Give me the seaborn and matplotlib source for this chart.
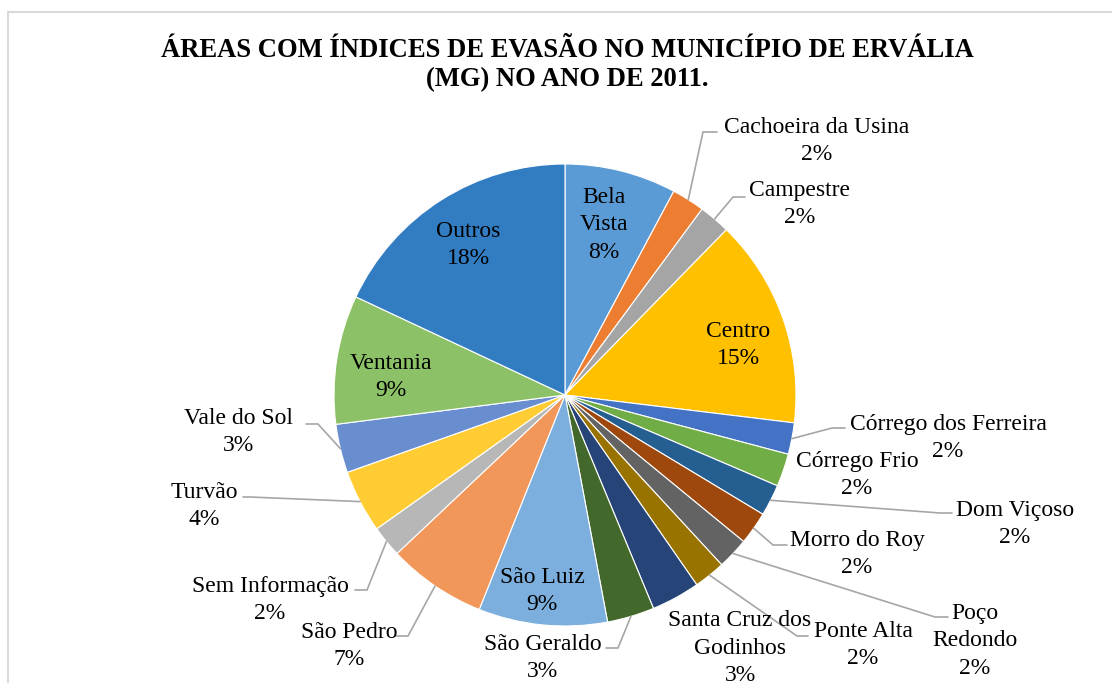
import numpy as np
import matplotlib.pyplot as plt
import matplotlib.patches as patches
import seaborn as sns

# Data (share of cases, %)
areas = ["Bela Vista", "Cachoeira da Usina", "Campestre", "Centro",
         "Córrego dos Ferreira", "Córrego Frio", "Dom Viçoso", "Morro do Roy",
         "Poço Redondo", "Ponte Alta", "Santa Cruz dos Godinhos", "São Geraldo",
         "São Luiz", "São Pedro", "Sem Informação", "Turvão", "Vale do Sol",
         "Ventania", "Outros"]
shares = [7.8, 2.3, 2.2, 14.6, 2.2, 2.3, 2.2, 2.3, 2.2, 2.2, 3.4, 3.3,
          9.0, 6.9, 2.2, 4.4, 3.4, 9.0, 18.0]
# how the names are broken in the labels
display_names = ["Bela\nVista", "Cachoeira da Usina", "Campestre", "Centro",
                 "Córrego dos Ferreira", "Córrego Frio", "Dom Viçoso", "Morro do Roy",
                 "Poço\nRedondo", "Ponte Alta", "Santa Cruz dos\nGodinhos", "São Geraldo",
                 "São Luiz", "São Pedro", "Sem Informação", "Turvão", "Vale do Sol",
                 "Ventania", "Outros"]

colors = ["#5B9BD5", "#ED7D31", "#A5A5A5", "#FFC000", "#4472C4", "#70AD47",
          "#255E91", "#9E480E", "#636363", "#997300", "#264478", "#43682B",
          "#7CAFDD", "#F1975A", "#B7B7B7", "#FFCD33", "#698ED0", "#8CC168",
          "#327DC2"]

sns.set_theme(style="white")
plt.rcParams["font.family"] = ["Liberation Serif", "DejaVu Serif"]

W, H = 1112, 683
fig = plt.figure(figsize=(W / 100, H / 100), dpi=100)
ax = fig.add_axes([0, 0, 1, 1])

cx, cy, r = 565, H - 395, 231
wedges, _ = ax.pie(shares, colors=colors, startangle=90, counterclock=False,
                   center=(cx, cy), radius=r,
                   wedgeprops=dict(edgecolor="white", linewidth=0.8))
ax.set_xlim(0, W)
ax.set_ylim(0, H)
ax.set_aspect("equal")
ax.axis("off")

# label layout: text centre and optional leader knee / end (pixels from top-left)
layout = {
    "Bela Vista": ((604, 225), None),
    "Cachoeira da Usina": ((817, 141), ((703, 132), (717, 132))),
    "Campestre": ((800, 204), ((733, 197), (745, 197))),
    "Centro": ((738, 345), None),
    "Córrego dos Ferreira": ((948, 438), ((832, 428), (845, 428))),
    "Córrego Frio": ((857, 475), None),
    "Dom Viçoso": ((1015, 524), ((940, 513), (952, 513))),
    "Morro do Roy": ((857, 554), ((773, 545), (787, 545))),
    "Poço Redondo": ((975, 641), ((935, 617), (948, 617))),
    "Ponte Alta": ((863, 645), ((797, 636), (808, 636))),
    "Santa Cruz dos Godinhos": ((740, 648), None),
    "São Geraldo": ((543, 658), ((618, 648), (606, 648))),
    "São Luiz": ((542, 591), None),
    "São Pedro": ((349, 646), ((408, 636), (396, 636))),
    "Sem Informação": ((270, 600), ((367, 590), (355, 590))),
    "Turvão": ((204, 506), ((250, 497), (243, 497))),
    "Vale do Sol": ((238, 432), ((318, 424), (306, 424))),
    "Ventania": ((391, 377), None),
    "Outros": ((468, 245), None),
}

total = sum(shares)
for w, name, disp, val in zip(wedges, areas, display_names, shares):
    (tx, ty), leader = layout[name]
    pct = val / total * 100
    ax.text(tx, H - ty, f"{disp}\n{pct:.0f}%", ha="center", va="center",
            fontsize=17, color="black", linespacing=1.38)
    if leader is not None:
        mid = np.deg2rad((w.theta1 + w.theta2) / 2)
        ax_, ay_ = cx + r * np.cos(mid), cy + r * np.sin(mid)
        (kx, ky), (ex, ey) = leader
        ax.plot([ax_, kx, ex], [ay_, H - ky, H - ey], color="#A6A6A6", lw=1.2,
                solid_joinstyle="miter")

fig.text(567 / W, 1 - 65 / H,
         "ÁREAS COM ÍNDICES DE EVASÃO NO MUNICÍPIO DE ERVÁLIA\n(MG) NO ANO DE 2011.",
         ha="center", va="center", fontsize=19.2, fontweight="bold",
         linespacing=1.25, color="black")

# chart area border (cropped at right and bottom)
fig.patches.append(patches.Rectangle((8 / W, -0.1), 1.2, (H - 12) / H + 0.1,
                                     transform=fig.transFigure, fill=False,
                                     edgecolor="#D9D9D9", lw=1.5))

fig.savefig("out.png", dpi=100)
